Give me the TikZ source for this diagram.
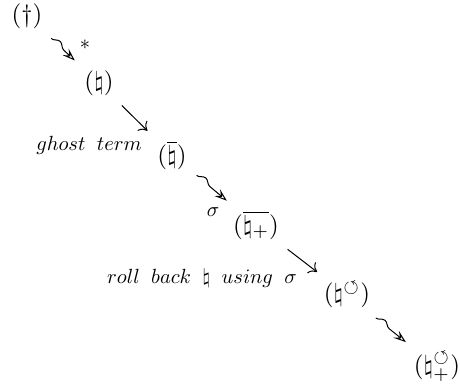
\documentclass[tikz,border=0pt]{standalone}
\usepackage{amsmath}
\usepackage{amssymb}
\usetikzlibrary{arrows.meta,decorations.pathmorphing}

\begin{document}
\begin{tikzpicture}[
		x=0.4pt, y=-0.4pt,
		term/.style={inner sep=1pt, outer sep=3pt},
		note/.style={inner sep=0pt, scale=0.82},
		plain/.style={-{To[length=3pt,width=5.5pt]}},
		squig/.style={-{Stealth[open,length=5pt,width=3.5pt,inset=2pt]},
			decorate, decoration={snake, amplitude=1.6pt, segment length=11pt, post length=5pt}}
		]
		
		% Fix the frame
		\useasboundingbox (0,0) rectangle (460,392);
		
		% Draw the terms along the diagonal
		\node[term] (dag) at (27,16) {$(\dagger)$};
		\node[term] (nat) at (99,83) {$(\natural)$};
		\node[term] (natbar) at (172,155) {$(\overline{\natural})$};
		\node[term] (natplus) at (256,225) {$(\overline{\natural_+})$};
		\node[term] (natrb) at (347,295) {$(\natural^{\circlearrowleft})$};
		\node[term] (natrbplus) at (437,367) {$(\natural^{\circlearrowleft}_+)$};
		
		% Draw the steps between them
		\draw[squig] (dag) -- (nat);
		\draw[plain] (nat) -- (natbar);
		\draw[squig] (natbar) -- (natplus);
		\draw[plain] (natplus) -- (natrb);
		\draw[squig] (natrb) -- (natrbplus);
		
		% Add the labels
		\node[note] (star) at (85,45) {$*$};
		\node[note] (ghost) at (89,145) {$ghost\ \:term$};
		\node[note] (sig) at (213,212) {$\sigma$};
		\node[note] (rollback) at (202,278) {$roll\ \:back\ \:\natural\ \:using\ \:\sigma$};
		
	\end{tikzpicture}
\end{document}
